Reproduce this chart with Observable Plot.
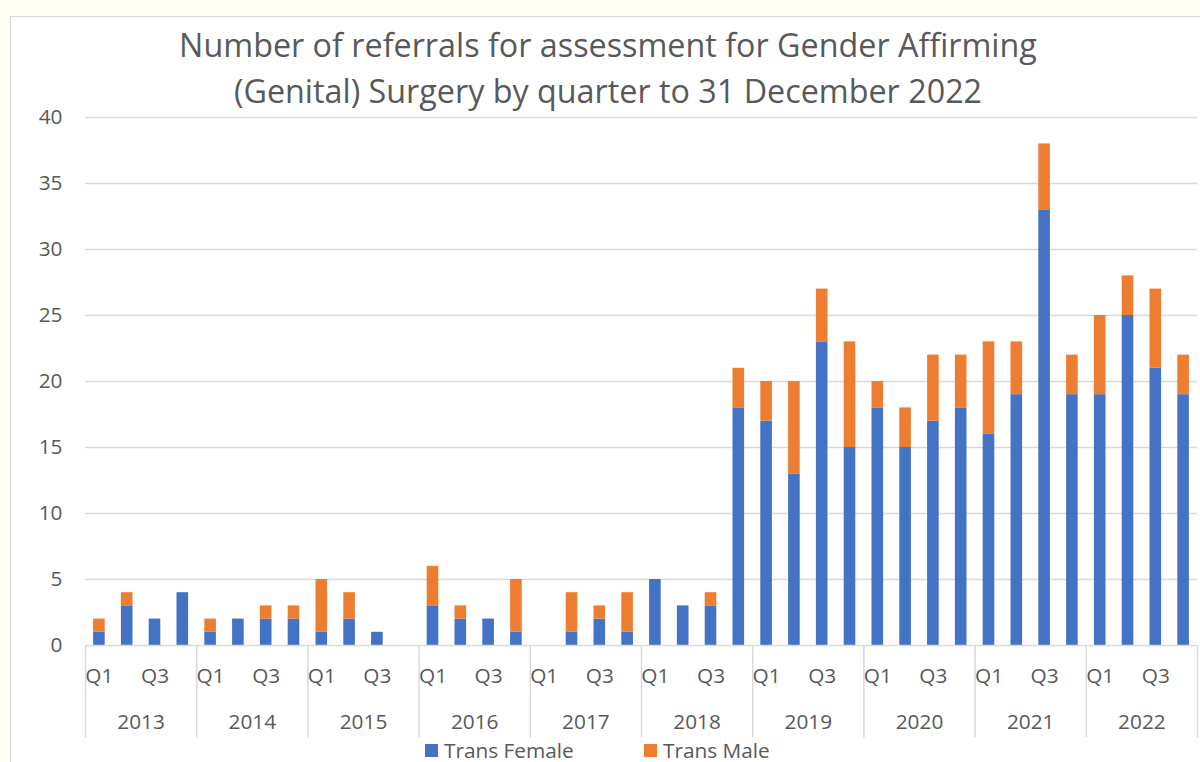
<!DOCTYPE html>
<html><head><meta charset="utf-8">
<script src="https://cdn.jsdelivr.net/npm/d3@7"></script>
<script src="https://cdn.jsdelivr.net/npm/@observablehq/plot@0.6"></script>
<style>
html,body{margin:0;padding:0;background:#fffff4;overflow:hidden;width:1200px;height:762px;}
#box{position:absolute;left:10px;top:16px;width:1200px;height:760px;background:#fff;border-left:1px solid #d9d9d9;border-top:1px solid #d9d9d9;}
#title{position:absolute;left:0;top:0;width:1200px;height:100px;text-align:center;font-family:"Open Sans",sans-serif;font-size:32.3px;color:#595959;line-height:46px;padding-top:21px;box-sizing:border-box;}
#title div{position:relative;left:8px;}
#chart{position:absolute;left:0;top:100px;}
#legend{position:absolute;top:736px;left:0;width:1200px;font-family:"Open Sans",sans-serif;font-size:20.8px;color:#595959;}
.sw{position:absolute;width:13px;height:13px;top:8px;}
.lt{position:absolute;top:0;}
</style></head>
<body>
<div id="box"></div>
<div id="title"><div>Number of referrals for assessment for Gender Affirming</div><div>(Genital) Surgery by quarter to 31 December 2022</div></div>
<div id="chart"></div>
<div id="legend">
<div class="sw" style="left:425px;background:#4472C4"></div><div class="lt" style="left:444px">Trans Female</div>
<div class="sw" style="left:644px;background:#ED7D31"></div><div class="lt" style="left:663px">Trans Male</div>
</div>
<script>
const years = [2013,2014,2015,2016,2017,2018,2019,2020,2021,2022];
const quarterNames = ["Q1","Q2","Q3","Q4"];
const shownQuarterLabels = ["Q1","Q3"];
const transFemale = [1,3,2,4, 1,2,2,2, 1,2,1,0, 3,2,2,1, 0,1,2,1, 5,3,3,18, 17,13,23,15, 18,15,17,18, 16,19,33,19, 19,25,21,19];
const transMale   = [1,1,0,0, 1,0,1,1, 4,2,0,0, 3,1,0,4, 0,3,1,3, 0,0,1,3, 3,7,4,8, 2,3,5,4, 7,4,5,3, 6,3,6,3];
const yTicks = [0,5,10,15,20,25,30,35,40];

const rows = [];
transFemale.forEach((v,i)=>{
  rows.push({i, series:"Trans Female", value:v});
  rows.push({i, series:"Trans Male", value:transMale[i]});
});
const qLabels = [];
years.forEach((y,yi)=>quarterNames.forEach((q,qi)=>{
  if (shownQuarterLabels.includes(q)) qLabels.push({x: yi*4+qi+0.5, label:q});
}));
const yearLabels = years.map((y,yi)=>({x: yi*4+2, label:String(y)}));
const seps = d3.range(0, years.length*4+1, 4);

const plot = Plot.plot({
  width: 1200, height: 640,
  marginLeft: 85, marginRight: 3, marginTop: 17, marginBottom: 95,
  style: {fontFamily: "'Open Sans', sans-serif", color: "#595959", background: "transparent"},
  x: {domain: [0, 40], axis: null},
  y: {domain: [0, 40], ticks: yTicks, tickSize: 0, tickPadding: 23, label: null, grid: false},
  color: {domain: ["Trans Female","Trans Male"], range: ["#4472C4","#ED7D31"]},
  marks: [
    Plot.ruleY(yTicks.filter(t=>t>0), {stroke: "#d9d9d9", strokeWidth: 1.3, strokeOpacity: 1}),
    Plot.axisY({ticks: yTicks, tickSize: 0, tickPadding: 23, fontSize: 20.8, label: null, fill:"#595959"}),
    Plot.rectY(rows, Plot.stackY({x1: d=>d.i, x2: d=>d.i+1, y: "value", fill: "series", order: ["Trans Female","Trans Male"], insetLeft: 8.1, insetRight: 8.1})),
    Plot.ruleY([0], {stroke: "#d9d9d9", strokeWidth: 1.5}),
    Plot.ruleX(seps, {x: d=>d, y1: 0, y2: -7, stroke: "#d9d9d9", strokeWidth: 1.5}),
    Plot.text(qLabels, {x: "x", y: 0, text: "label", dy: 31, fontSize: 20.8, fill: "#595959"}),
    Plot.text(yearLabels, {x: "x", y: 0, text: "label", dy: 77, fontSize: 20.8, fill: "#595959"})
  ]
});
document.getElementById("chart").appendChild(plot);
</script>
</body></html>
